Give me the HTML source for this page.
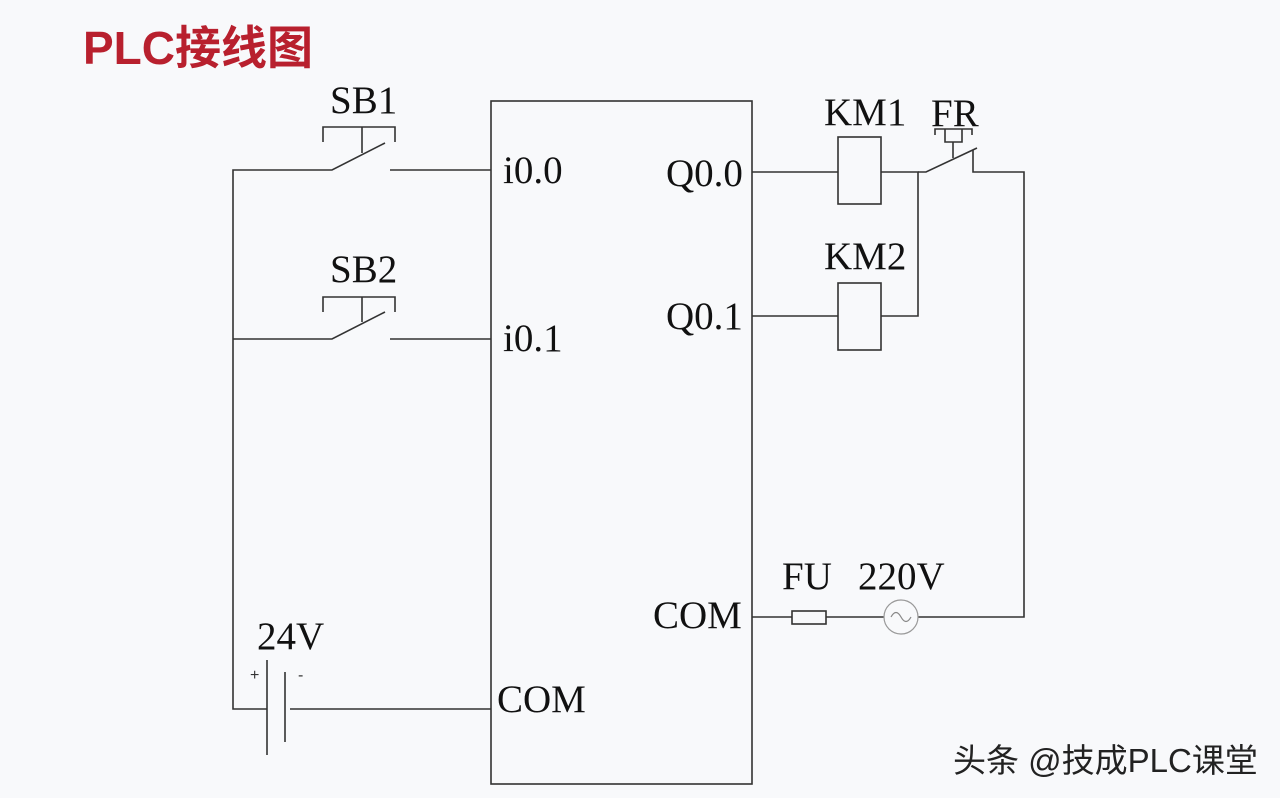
<!DOCTYPE html>
<html><head><meta charset="utf-8"><style>
html,body{margin:0;padding:0;background:#f8f9fb;}
svg{display:block}
.t{font-family:"Liberation Serif",serif;font-size:39px;fill:#111}
</style></head><body>
<svg width="1280" height="798" viewBox="0 0 1280 798">
<rect width="1280" height="798" fill="#f8f9fb"/>
<text x="83" y="64" font-family="Liberation Sans,'Noto Sans CJK SC',sans-serif" font-weight="bold" font-size="46" fill="#b8202e">PLC接线图</text>
<g stroke="#333" stroke-width="1.6" fill="none">
<rect x="491" y="101" width="261" height="683"/>
<polyline points="491,709 290,709"/>
<polyline points="267,709 233,709 233,170 332,170 385,143"/>
<line x1="390" y1="170" x2="491" y2="170"/>
<polyline points="323,142 323,127 395,127 395,142"/>
<line x1="362" y1="127" x2="362" y2="153"/>
<polyline points="233,339 332,339 385,312"/>
<line x1="390" y1="339" x2="491" y2="339"/>
<polyline points="323,312 323,297 395,297 395,312"/>
<line x1="362" y1="297" x2="362" y2="322"/>
<line x1="267" y1="660" x2="267" y2="755"/>
<line x1="285" y1="672" x2="285" y2="742"/>
<line x1="752" y1="172" x2="838" y2="172"/>
<rect x="838" y="137" width="43" height="67"/>
<polyline points="881,172 918,172 918,316 881,316"/>
<polyline points="918,172 926,172 977,148"/>
<polyline points="973,150 973,172 1024,172 1024,617 918,617"/>
<polyline points="935,135 935,129 972,129 972,135"/>
<polyline points="945,129 945,142 962,142 962,129"/>
<line x1="953" y1="142" x2="953" y2="158"/>
<line x1="752" y1="316" x2="838" y2="316"/>
<rect x="838" y="283" width="43" height="67"/>
<line x1="752" y1="617" x2="792" y2="617"/>
<rect x="792" y="611" width="34" height="13"/>
<line x1="826" y1="617" x2="884" y2="617"/>
<circle cx="901" cy="617" r="17" stroke="#999" stroke-width="1.2"/>
<path d="M891,617 q5,-9 10,0 q5,9 10,0" stroke="#888" stroke-width="1.2"/>
</g>
<text class="t" x="330" y="113">SB1</text>
<text class="t" x="330" y="282">SB2</text>
<text class="t" x="503" y="183">i0.0</text>
<text class="t" x="503" y="351">i0.1</text>
<text class="t" x="666" y="186">Q0.0</text>
<text class="t" x="666" y="329">Q0.1</text>
<text class="t" x="824" y="125">KM1</text>
<text class="t" x="931" y="126">FR</text>
<text class="t" x="824" y="269">KM2</text>
<text class="t" x="653" y="628">COM</text>
<text class="t" x="497" y="712">COM</text>
<text class="t" x="782" y="589">FU</text>
<text class="t" x="858" y="589">220V</text>
<text class="t" x="257" y="649">24V</text>
<text x="250" y="680" font-family="Liberation Sans,sans-serif" font-size="16" fill="#333">+</text>
<text x="298" y="680" font-family="Liberation Sans,sans-serif" font-size="16" fill="#333">-</text>
<text x="953" y="772" font-family="Liberation Sans,'Noto Sans CJK SC',sans-serif" font-size="33" fill="#222">头条 @技成PLC课堂</text>
</svg>
</body></html>
